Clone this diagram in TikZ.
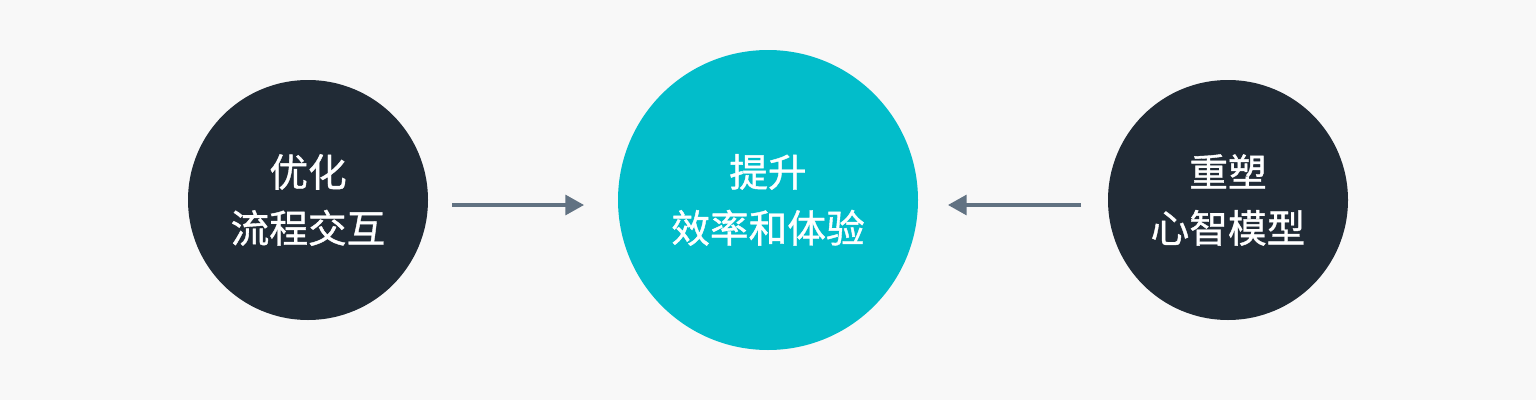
\documentclass[tikz,border=0pt]{standalone}
\usepackage{fontspec}
\newfontfamily\cjk[FakeBold=1]{Noto Sans CJK SC}
\usetikzlibrary{arrows.meta}
\definecolor{bgGray}{HTML}{F8F8F8}
\definecolor{darkNavy}{HTML}{212B36}
\definecolor{tealMain}{HTML}{02BDCA}
\definecolor{arrowGray}{HTML}{617282}
\begin{document}
\begin{tikzpicture}[x=0.75pt,y=0.75pt,yscale=-1,xscale=1,
  circ/.style={circle,inner sep=0pt,text=white,align=center,
    font=\cjk\fontsize{29}{42}\selectfont},
  link/.style={draw=arrowGray,line width=2.3pt,-{Triangle[length=14pt,width=15pt]}}]
%background, sets the diagram size
\fill [bgGray] (0,0) rectangle (1536,400);

% Circles
\node [circ,fill=darkNavy,minimum size=180pt] (optimize) at (308,200) {优化\\流程交互};
\node [circ,fill=tealMain,minimum size=225pt] (improve) at (768,200) {提升\\效率和体验};
\node [circ,fill=darkNavy,minimum size=180pt] (reshape) at (1228,200) {重塑\\心智模型};

% Arrows
\coordinate (la) at (452,205);
\coordinate (lb) at (584,205);
\coordinate (ra) at (1081,205);
\coordinate (rb) at (948,205);
\draw [link] (la) -- (lb);
\draw [link] (ra) -- (rb);

\end{tikzpicture}
\end{document}
